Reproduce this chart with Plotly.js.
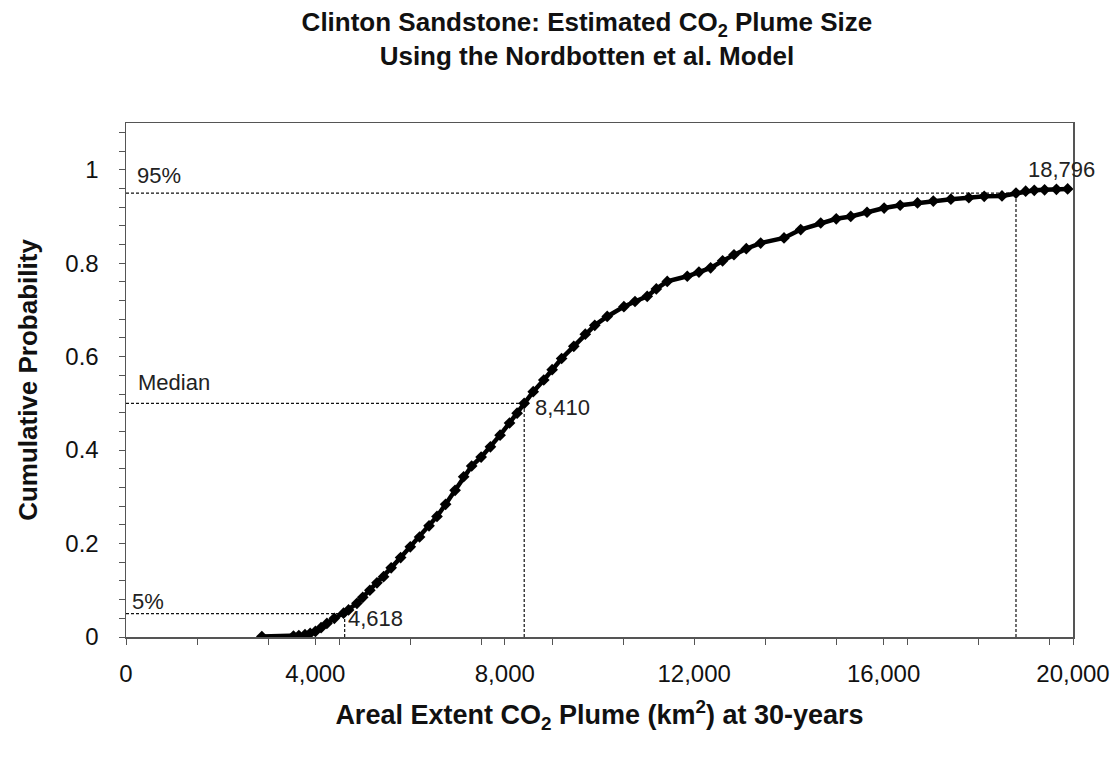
<!DOCTYPE html>
<html>
<head>
<meta charset="utf-8">
<script src="https://cdn.plot.ly/plotly-3.0.1.min.js"></script>
<style>
  html, body { margin: 0; padding: 0; background: #ffffff; }
  #chart { width: 1118px; height: 761px; }
</style>
</head>
<body>
<div id="chart"></div>
<script>
// Areal extent of CO2 plume (km^2)
const plumeArea = [
  2869, 3537, 3650, 3780, 3890, 4000, 4120, 4243, 4400, 4595,
  4700, 4877, 5000, 5150, 5300, 5440, 5600, 5800, 6004, 6200,
  6400, 6568, 6750, 6950, 7131, 7300, 7500, 7696, 7900, 8100,
  8260, 8410, 8600, 8823, 9000, 9200, 9457, 9700, 9900, 10163,
  10515, 10750, 11008, 11200, 11431, 11854, 12100, 12347, 12600, 12840,
  13100, 13404, 13897, 14249, 14672, 15000, 15306, 15650, 16011, 16350,
  16716, 17050, 17421, 17800, 18125, 18500, 18796, 19000, 19182, 19400,
  19650, 19887
];
// Cumulative probability for each plume area value
const cumProb = [
  0.001, 0.002, 0.003, 0.005, 0.008, 0.012, 0.020, 0.029, 0.040, 0.051,
  0.058, 0.072, 0.085, 0.100, 0.116, 0.129, 0.148, 0.170, 0.193, 0.214,
  0.238, 0.258, 0.284, 0.314, 0.343, 0.366, 0.385, 0.407, 0.432, 0.458,
  0.479, 0.500, 0.525, 0.550, 0.572, 0.596, 0.622, 0.648, 0.667, 0.686,
  0.707, 0.718, 0.729, 0.745, 0.761, 0.772, 0.781, 0.790, 0.805, 0.818,
  0.831, 0.843, 0.854, 0.872, 0.886, 0.895, 0.900, 0.909, 0.918, 0.924,
  0.929, 0.933, 0.937, 0.940, 0.943, 0.944, 0.950, 0.954, 0.956, 0.957,
  0.958, 0.959
];

// Reference percentiles
const pctNames  = ["5%", "Median", "95%"];
const pctProbs  = [0.05, 0.50, 0.95];
const pctValues = [4618, 8410, 18796];
const pctValueLabels = ["4,618", "8,410", "18,796"];

// Axis ticks
const xTickVals = [0, 4000, 8000, 12000, 16000, 20000];
const xTickText = ["0", "4,000", "8,000", "12,000", "16,000", "20,000"];
const yTickVals = [0, 0.2, 0.4, 0.6, 0.8, 1];
const yTickText = ["0", "0.2", "0.4", "0.6", "0.8", "1"];

const FONT = "Liberation Sans, Arial, sans-serif";
const AXCOL = "#555555";

const shapes = [];
pctProbs.forEach((p, i) => {
  const dashLine = { color: "#111111", width: 1.2, dash: "3px,2px" };
  shapes.push({ type: "line", xref: "x", yref: "y", x0: 0, x1: pctValues[i], y0: p, y1: p, line: dashLine, layer: "below" });
  shapes.push({ type: "line", xref: "x", yref: "y", x0: pctValues[i], x1: pctValues[i], y0: 0, y1: p, line: dashLine, layer: "below" });
});

const annFont = { family: FONT, size: 22, color: "#222222" };
// name label offsets in pixels relative to the start of each dashed line
const nameShifts = [ {xs: 4, ys: 12}, {xs: 10, ys: 21}, {xs: 9, ys: 18} ];
const annotations = [];
pctProbs.forEach((p, i) => {
  annotations.push({
    x: 0, y: p, xref: "x", yref: "y", text: pctNames[i], showarrow: false,
    xanchor: "left", yanchor: "middle", xshift: nameShifts[i].xs, yshift: nameShifts[i].ys,
    font: annFont
  });
});
const valueShifts = [ {xs: 1, ys: -5}, {xs: 9, ys: -4}, {xs: 10, ys: 24} ];
pctValues.forEach((v, i) => {
  annotations.push({
    x: v, y: pctProbs[i], xref: "x", yref: "y", text: pctValueLabels[i], showarrow: false,
    xanchor: "left", yanchor: "middle", xshift: valueShifts[i].xs, yshift: valueShifts[i].ys,
    font: annFont
  });
});

const trace = {
  type: "scatter",
  mode: "lines+markers",
  x: plumeArea,
  y: cumProb,
  line: { color: "#000000", width: 4.5 },
  marker: { symbol: "diamond", size: 9, color: "#000000" },
  hoverinfo: "x+y",
  showlegend: false
};

const layout = {
  width: 1118,
  height: 761,
  paper_bgcolor: "#ffffff",
  plot_bgcolor: "#ffffff",
  margin: { l: 126, r: 45, t: 123, b: 124 },
  font: { family: FONT, color: "#111111" },
  title: {
    text: "<b>Clinton Sandstone: Estimated CO<sub>2</sub> Plume Size<br>Using the Nordbotten et al. Model</b>",
    font: { family: FONT, size: 26, color: "#111111" },
    x: 0.525, xref: "container", xanchor: "center",
    y: 0.959, yref: "container", yanchor: "middle"
  },
  xaxis: {
    range: [0, 20000],
    tickmode: "array",
    tickvals: xTickVals,
    ticktext: xTickText,
    ticks: "outside",
    ticklen: 6,
    tickwidth: 1,
    tickcolor: AXCOL,
    minor: { dtick: 1500, tick0: 0, ticks: "outside", ticklen: 6, tickcolor: AXCOL, tickwidth: 1, showgrid: false },
    showline: true,
    linecolor: AXCOL,
    linewidth: 1.5,
    mirror: true,
    showgrid: false,
    zeroline: false,
    ticklabelstandoff: 9,
    tickfont: { family: FONT, size: 24, color: "#111111" },
    title: {
      text: "<b>Areal Extent CO<sub>2</sub> Plume (km<sup>2</sup>) at 30-years</b>",
      font: { family: FONT, size: 27, color: "#111111" },
      standoff: 19
    }
  },
  yaxis: {
    range: [0, 1.1],
    tickmode: "array",
    tickvals: yTickVals,
    ticktext: yTickText,
    ticks: "outside",
    ticklen: 6,
    tickwidth: 1,
    tickcolor: AXCOL,
    minor: { dtick: 0.04, tick0: 0, ticks: "outside", ticklen: 6, tickcolor: AXCOL, tickwidth: 1, showgrid: false },
    showline: true,
    linecolor: AXCOL,
    linewidth: 1.5,
    mirror: true,
    showgrid: false,
    zeroline: false,
    ticklabelstandoff: 15,
    tickfont: { family: FONT, size: 24, color: "#111111" },
    title: {
      text: "<b>Cumulative Probability</b>",
      font: { family: FONT, size: 26, color: "#111111" },
      standoff: 20
    }
  },
  shapes: shapes,
  annotations: annotations
};

Plotly.newPlot("chart", [trace], layout, { displayModeBar: false, staticPlot: true });
</script>
</body>
</html>
